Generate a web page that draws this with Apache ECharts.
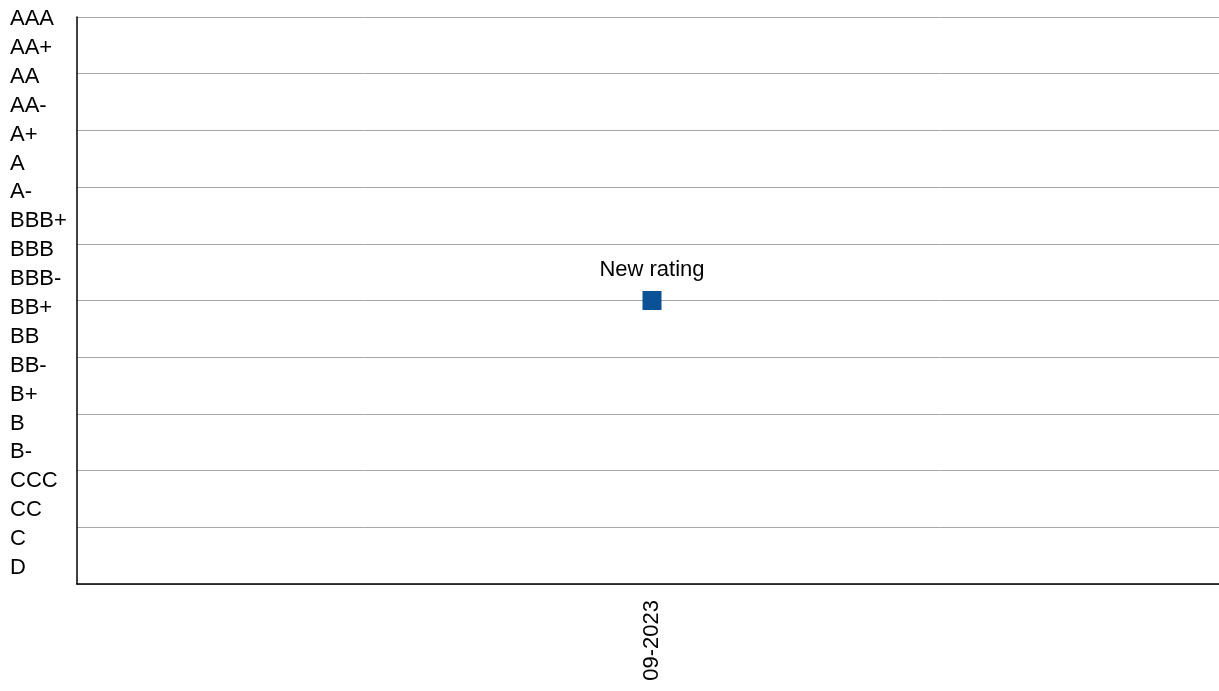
<!DOCTYPE html>
<html>
<head>
<meta charset="utf-8">
<script src="https://cdn.jsdelivr.net/npm/echarts@6/dist/echarts.min.js"></script>
<style>
  html, body { margin: 0; padding: 0; background: #fff; overflow: hidden; }
  #chart { width: 1227px; height: 691px; }
</style>
</head>
<body>
<div id="chart"></div>
<script>
// Rating scale, best to worst
const ratings = ['AAA','AA+','AA','AA-','A+','A','A-','BBB+','BBB','BBB-','BB+','BB','BB-','B+','B','B-','CCC','CC','C','D'];
// Rating history
const dates = ['09-2023'];
const assigned = ['BB+'];
const eventLabels = ['New rating'];

// Numeric score: AAA = 20 ... D = 1
const score = r => ratings.length - ratings.indexOf(r);

const FONT = 'Arial';
const FS = 22;

const chart = echarts.init(document.getElementById('chart'));
chart.setOption({
  animation: false,
  textStyle: { fontFamily: FONT, color: '#000' },
  grid: [
    { left: 77, right: 0, top: 17, bottom: 107, containLabel: false },
    { left: 0, width: 2, top: 19, bottom: 123, containLabel: false }
  ],
  xAxis: [
    {
      gridIndex: 0,
      type: 'category',
      data: dates,
      boundaryGap: true,
      axisLine: { lineStyle: { color: '#000', width: 1.5 } },
      axisTick: { show: false },
      axisLabel: { rotate: 90, color: '#000', fontSize: FS, fontFamily: FONT, margin: 16 },
      splitLine: { show: false }
    },
    { gridIndex: 1, type: 'value', show: false }
  ],
  yAxis: [
    {
      gridIndex: 0,
      type: 'value',
      min: 0,
      max: 20,
      interval: 2,
      axisLine: { show: true, lineStyle: { color: '#000', width: 1.5 } },
      axisTick: { show: false },
      axisLabel: { show: false },
      splitLine: { show: true, lineStyle: { color: '#a6a6a6', width: 1 } }
    },
    {
      gridIndex: 1,
      type: 'category',
      data: ratings,
      inverse: true,
      boundaryGap: false,
      position: 'right',
      axisLine: { show: false },
      axisTick: { show: false },
      splitLine: { show: false },
      axisLabel: { color: '#000', fontSize: FS, fontFamily: FONT, margin: 8, align: 'left', interval: 0 }
    }
  ],
  series: [{
    type: 'scatter',
    xAxisIndex: 0,
    yAxisIndex: 0,
    symbol: 'rect',
    symbolSize: 19,
    itemStyle: { color: '#0a5196', opacity: 1 },
    label: {
      show: true,
      position: 'top',
      distance: 10,
      color: '#000',
      fontSize: FS,
      fontFamily: FONT,
      formatter: p => eventLabels[p.dataIndex]
    },
    emphasis: { disabled: true },
    data: dates.map((d, i) => [d, score(assigned[i])])
  }]
});
</script>
</body>
</html>
